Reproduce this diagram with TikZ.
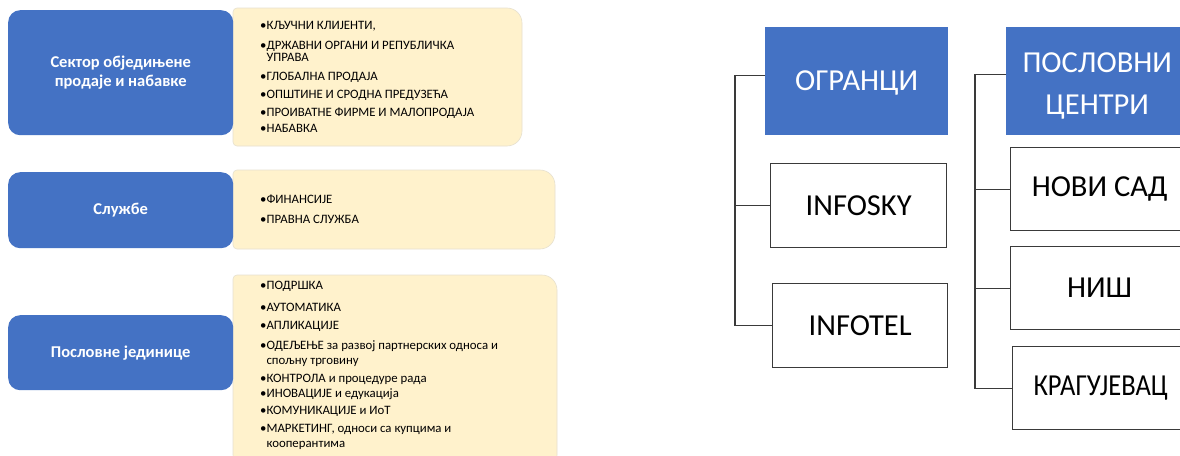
\documentclass[tikz,border=0pt]{standalone}
\usepackage{fontspec}
\setmainfont{Carlito}
\definecolor{blu}{HTML}{4472C4}
\definecolor{crm}{HTML}{FFF2CC}
\definecolor{crmline}{HTML}{E6E0CF}
\definecolor{lin}{HTML}{3A3A3A}
\begin{document}
\begin{tikzpicture}[x=1pt,y=-1pt,
  bluebox/.style={fill=blu, rounded corners=12pt, text=white, align=center, inner sep=0pt,
    font=\bfseries\fontsize{16.5}{19}\selectfont, anchor=north west},
  creamfill/.style={fill=crm, draw=crmline, line width=0.6pt},
  itemtxt/.style={anchor=base west, inner sep=0pt, font=\fontsize{12.8}{14}\selectfont},
  headbox/.style={fill=blu, text=white, align=center, inner sep=0pt, anchor=north west,
    font=\fontsize{30.5}{42}\selectfont},
  whitebox/.style={fill=white, draw=lin, line width=1.3pt, inner sep=0pt, anchor=north west,
    font=\fontsize{30.5}{34}\selectfont},
  conn/.style={draw=lin, line width=1.1pt}]
\clip (0,0) rectangle (1180,455);
\fill[white] (0,0) rectangle (1180,455);
% ---------- left: cream panels ----------
\path[creamfill] (233,146) [rounded corners=4pt] -- (233,8) [rounded corners=15pt] -- (522,8) -- (522,146) [rounded corners=4pt] -- cycle;
\path[creamfill] (233,249) [rounded corners=4pt] -- (233,170) [rounded corners=15pt] -- (555,170) -- (555,249) [rounded corners=4pt] -- cycle;
\path[creamfill] (233,470) [rounded corners=4pt] -- (233,275) [rounded corners=15pt] -- (557,275) -- (557,470) -- cycle;
% ---------- left: blue boxes ----------
\node[bluebox, minimum width=225, minimum height=125] (b1) at (8,10) {Сектор обједињене\\продаје и набавке};
\node[bluebox, minimum width=225, minimum height=76] (b2) at (8,172) {Службе};
\node[bluebox, minimum width=225, minimum height=75] (b3) at (8,315) {Пословне јединице};
% ---------- left: item texts ----------
\foreach \yy/\tt [count=\i] in {
  25/{•КЉУЧНИ КЛИЈЕНТИ,},
  45/{•ДРЖАВНИ ОРГАНИ И РЕПУБЛИЧКА},
  57/{\phantom{•}УПРАВА},
  76/{•ГЛОБАЛНА ПРОДАЈА},
  94/{•ОПШТИНЕ И СРОДНА ПРЕДУЗЕЋА},
  112/{•ПРОИВАТНЕ ФИРМЕ И МАЛОПРОДАЈА},
  128/{•НАБАВКА},
  199/{•ФИНАНСИЈЕ},
  219/{•ПРАВНА СЛУЖБА},
  285/{•ПОДРШКА},
  307/{•АУТОМАТИКА},
  325/{•АПЛИКАЦИЈЕ},
  345/{•ОДЕЉЕЊЕ за развој партнерских односа и},
  360/{\phantom{•}спољну трговину},
  378/{•КОНТРОЛА и процедуре рада},
  393/{•ИНОВАЦИЈЕ и едукација},
  410/{•КОМУНИКАЦИЈЕ и ИоТ},
  428/{•МАРКЕТИНГ, односи са купцима и},
  443/{\phantom{•}кооперантима}}
  \node[itemtxt] (it\i) at (260,\yy+4.2) {\tt};
% ---------- right: org chart ----------
\node[headbox, minimum width=183, minimum height=108, text height=24pt] (og) at (765,27) {ОГРАНЦИ};
\node[whitebox, minimum width=176, minimum height=84] (isky) at (770,163) {INFOSKY};
\node[whitebox, minimum width=175, minimum height=84] (itel) at (772,283) {INFOTEL};
\node[headbox, minimum width=182, minimum height=108] (pc) at (1006,27) {\rule{0pt}{30pt}ПОСЛОВНИ\\ЦЕНТРИ};
\node[whitebox, minimum width=178, minimum height=83] (ns) at (1010,147) {НОВИ САД};
\node[whitebox, minimum width=178, minimum height=83] (nis) at (1010,246) {НИШ};
\node[whitebox, minimum width=176, minimum height=83] (kg) at (1012,346) {\scalebox{0.87}[1]{КРАГУЈЕВАЦ}};
\coordinate (t1) at (735,0);
\coordinate (t2) at (975,0);
\draw[conn] ([yshift=6pt]og.west) -| (t1 |- itel.west) -- (itel.west);
\draw[conn] (isky.west) -- (isky.west -| t1);
\draw[conn] ([yshift=7pt]pc.west) -| (t2 |- kg.west) -- (kg.west);
\draw[conn] (ns.west) -- (ns.west -| t2);
\draw[conn] (nis.west) -- (nis.west -| t2);
\end{tikzpicture}
\end{document}
